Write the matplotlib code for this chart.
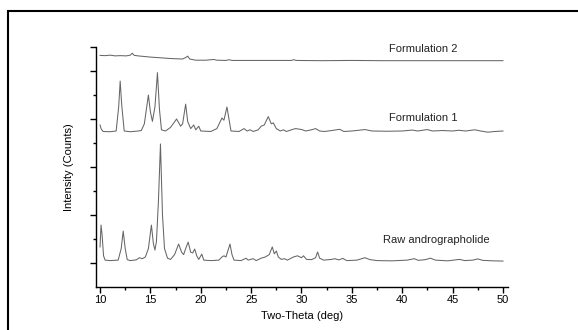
import numpy as np
import matplotlib.pyplot as plt
from matplotlib.patches import Rectangle

plt.rcParams['font.family'] = ['Liberation Sans', 'DejaVu Sans']

# Raw andrographolide
raw_x = [10.0, 10.1, 10.2, 10.35, 10.5, 11.0, 11.8, 12.1, 12.3, 12.5, 12.7, 13.0, 13.6, 13.9,
         14.2, 14.5, 14.8, 15.1, 15.3, 15.45, 15.6, 15.8, 16.0, 16.2, 16.4, 16.7, 17.0, 17.4,
         17.8, 18.1, 18.3, 18.5, 18.75, 19.0, 19.2, 19.4, 19.6, 19.8, 20.1, 20.3, 21.0, 21.8,
         22.1, 22.3, 22.5, 22.9, 23.1, 23.3, 24.0, 24.5, 24.7, 25.2, 25.5, 26.0, 26.4, 26.8,
         27.1, 27.3, 27.5, 27.7, 28.0, 28.3, 28.6, 29.2, 29.6, 30.0, 30.2, 30.5, 31.0, 31.4,
         31.6, 31.8, 32.2, 33.0, 33.3, 33.7, 34.1, 34.5, 35.5, 36.3, 36.8, 37.5, 39.0, 40.5,
         41.2, 41.6, 42.3, 42.8, 43.3, 44.5, 45.7, 46.2, 47.0, 47.5, 48.0, 49.0, 50.0]
raw_y = [0.67, 1.58, 1.2, 0.3, 0.12, 0.1, 0.12, 0.6, 1.33, 0.6, 0.14, 0.1, 0.13, 0.22,
         0.18, 0.25, 0.6, 1.58, 0.8, 0.54, 0.9, 2.6, 4.96, 2.0, 0.6, 0.2, 0.15, 0.35,
         0.79, 0.45, 0.35, 0.6, 0.87, 0.45, 0.42, 0.58, 0.3, 0.15, 0.37, 0.12, 0.1, 0.12,
         0.25, 0.3, 0.25, 0.79, 0.35, 0.12, 0.1, 0.2, 0.12, 0.18, 0.1, 0.2, 0.25, 0.35,
         0.67, 0.38, 0.5, 0.25, 0.15, 0.18, 0.12, 0.25, 0.3, 0.22, 0.3, 0.15, 0.14, 0.22,
         0.46, 0.2, 0.12, 0.15, 0.18, 0.13, 0.19, 0.1, 0.12, 0.22, 0.14, 0.1, 0.09, 0.12,
         0.18, 0.11, 0.14, 0.2, 0.12, 0.09, 0.15, 0.1, 0.12, 0.17, 0.11, 0.09, 0.08]

# Formulation 1 (offset)
f1_x = [10.0, 10.1, 10.3, 11.0, 11.6, 11.85, 12.0, 12.15, 12.4, 13.0, 13.8, 14.1, 14.4, 14.8,
        15.0, 15.2, 15.45, 15.7, 15.9, 16.1, 16.5, 17.0, 17.6, 18.0, 18.2, 18.5, 18.7, 19.0,
        19.3, 19.5, 19.8, 20.0, 21.0, 21.6, 22.1, 22.3, 22.6, 22.8, 23.0, 23.8, 24.3, 24.6,
        24.9, 25.2, 25.7, 26.0, 26.3, 26.7, 27.0, 27.2, 27.5, 27.9, 28.2, 28.5, 29.0, 29.4,
        29.9, 30.1, 30.4, 31.0, 31.4, 31.8, 32.3, 33.0, 33.8, 34.2, 35.0, 36.3, 37.0, 38.5,
        40.0, 41.0, 41.5, 42.5, 43.0, 44.0, 45.0, 45.6, 46.3, 47.2, 47.8, 48.5, 49.2, 50.0]
f1_y = [5.75, 5.6, 5.48, 5.47, 5.5, 6.5, 7.58, 6.6, 5.5, 5.47, 5.5, 5.52, 5.8, 7.0,
        6.3, 5.9, 6.5, 7.93, 6.4, 5.55, 5.5, 5.65, 6.0, 5.7, 5.8, 6.62, 5.9, 5.6,
        5.75, 5.55, 5.7, 5.5, 5.48, 5.6, 6.04, 5.95, 6.5, 6.0, 5.5, 5.48, 5.6, 5.5,
        5.55, 5.48, 5.55, 5.7, 5.75, 6.1, 5.8, 5.84, 5.6, 5.5, 5.55, 5.48, 5.55, 5.6,
        5.57, 5.55, 5.5, 5.55, 5.6, 5.5, 5.48, 5.52, 5.57, 5.48, 5.5, 5.56, 5.5, 5.49,
        5.5, 5.54, 5.5, 5.56, 5.5, 5.52, 5.5, 5.53, 5.5, 5.55, 5.5, 5.45, 5.48, 5.5]

# Formulation 2 (offset)
f2_x = [10.0, 10.5, 11.0, 11.5, 12.0, 12.6, 13.0, 13.2, 13.4, 14.0, 15.0, 16.0, 17.0, 17.5,
        18.2, 18.5, 18.7, 18.9, 19.5, 20.5, 21.3, 21.6, 22.5, 22.8, 23.1, 25.0, 27.0, 29.0,
        29.2, 29.5, 32.0, 35.0, 38.0, 41.0, 44.0, 47.0, 50.0]
f2_y = [8.65, 8.64, 8.66, 8.63, 8.64, 8.63, 8.66, 8.74, 8.65, 8.62, 8.58, 8.55, 8.52, 8.51,
        8.5, 8.56, 8.62, 8.5, 8.45, 8.45, 8.48, 8.45, 8.44, 8.47, 8.44, 8.44, 8.44, 8.44,
        8.47, 8.44, 8.43, 8.44, 8.43, 8.43, 8.43, 8.43, 8.43]

labels = ['Formulation 2', 'Formulation 1', 'Raw andrographolide']
label_x = [42.1, 42.1, 43.4]
label_y = [8.92, 6.04, 0.96]

fig = plt.figure(figsize=(5.78, 3.30), dpi=100)
ax = fig.add_axes([96/578, 43/330, 412/578, 240/330])

for xs, ys in [(raw_x, raw_y), (f1_x, f1_y), (f2_x, f2_y)]:
    ax.plot(xs, ys, color='#666666', lw=0.75)

for t, lx, ly in zip(labels, label_x, label_y):
    ax.text(lx, ly, t, ha='center', va='center', fontsize=8, color='#222222')

ax.set_xlim(9.6, 50.5)
ax.set_ylim(-1, 9)
ax.set_xticks(np.arange(10, 51, 5))
ax.set_xticks(np.arange(12.5, 50, 5), minor=True)
ax.set_yticks([0, 2, 4, 6, 8, 9])
ax.set_yticks([1, 3, 5, 7], minor=True)
ax.set_yticklabels([])
ax.tick_params(axis='both', which='major', length=4, width=1, labelsize=8, pad=2)
ax.tick_params(axis='both', which='minor', length=2.5, width=1)
for s in ['top', 'right']:
    ax.spines[s].set_visible(False)
for s in ['left', 'bottom']:
    ax.spines[s].set_linewidth(1)
ax.set_xlabel('Two-Theta (deg)', fontsize=8, labelpad=4)
ax.set_ylabel('Intensity (Counts)', fontsize=8, labelpad=10)

# outer frame of the figure panel
fig.patches.append(Rectangle((7.5/578, -0.2), 1.2, (330-10.5)/330 + 0.2,
                             transform=fig.transFigure, fill=False, lw=1.5,
                             edgecolor='black'))

plt.savefig('out.png', dpi=100)
